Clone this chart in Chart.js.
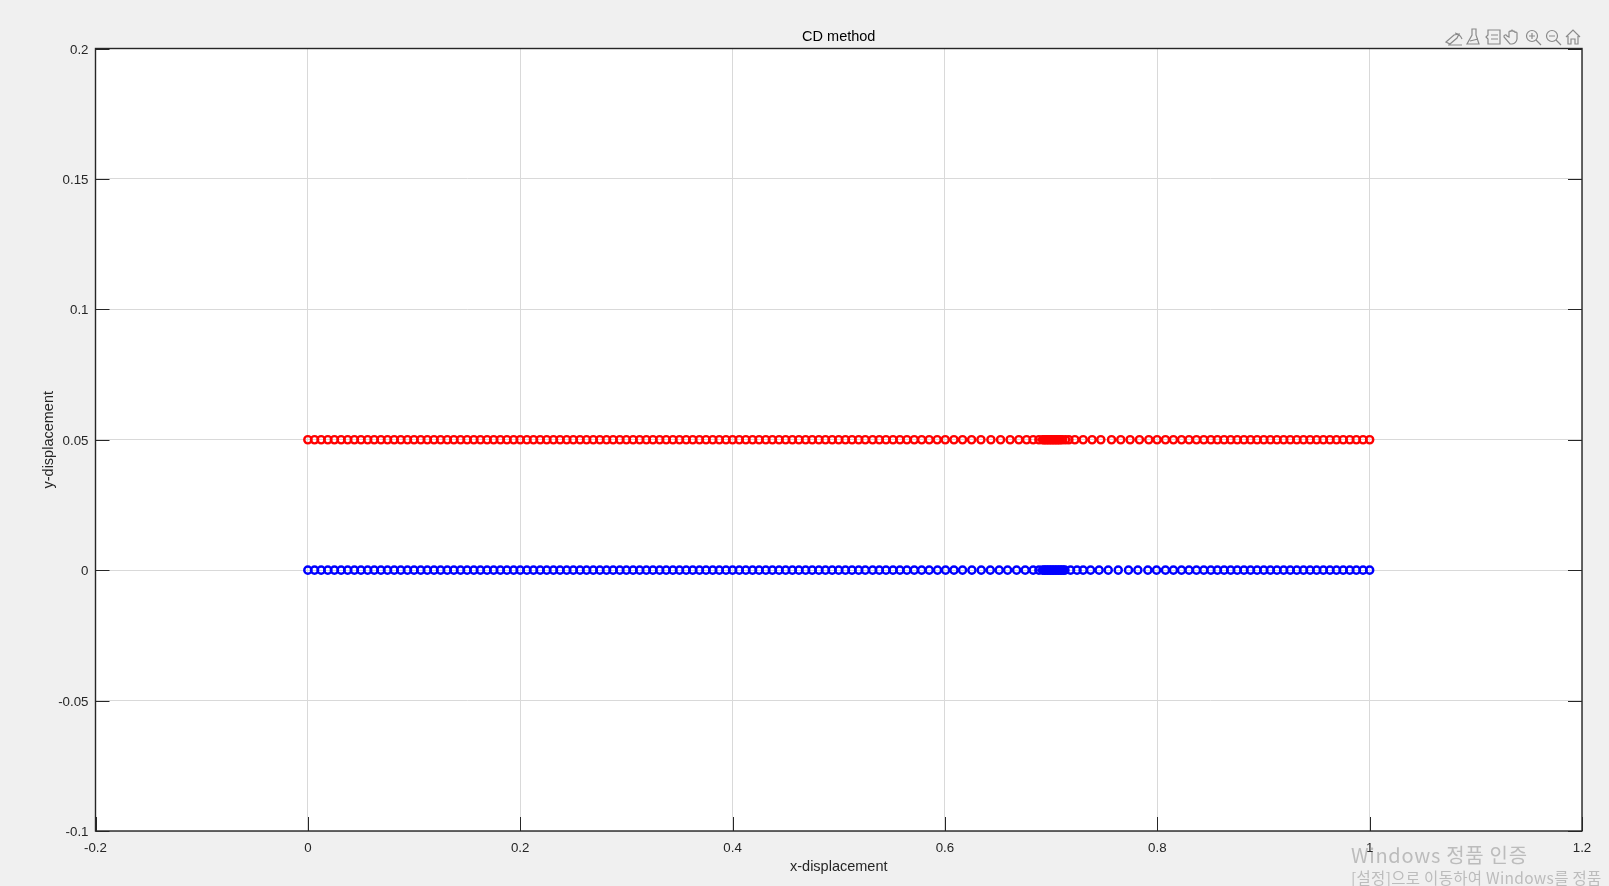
<!DOCTYPE html>
<html>
<head>
<meta charset="utf-8">
<title>CD method</title>
<script src="https://cdn.jsdelivr.net/npm/chart.js@4"></script>
<style>
    html, body { margin: 0; padding: 0; background: #f0f0f0; overflow: hidden; }
    #wrap { position: relative; width: 1609px; height: 886px; overflow: hidden; }
    canvas { display: block; }
    #tools { position: absolute; left: 0; top: 0; }
    .mark { position: absolute; white-space: nowrap; color: #bcbcbc; font-family: "Noto Sans CJK KR", "Noto Sans", sans-serif; }
    #mark1 { left: 1351px; top: 841px; font-size: 20px; letter-spacing: 0.7px; line-height: 28px; }
    #mark2 { left: 1351px; top: 867px; font-size: 15.5px; letter-spacing: 0.3px; line-height: 20px; }
</style>
</head>
<body>
<div id="wrap">
    <canvas id="chart" width="1609" height="886"></canvas>
    <svg id="tools" width="1609" height="60" fill="none" stroke="#8a8a8a" stroke-width="1.2">
        <path d="M1446 42 l8 -7 l5 -1 l-2 4 l-7 6 z M1448 45 h14 M1455 33 q5 1 7 6"/>
        <path d="M1472 29 h4 v6 l3 9 h-12 l5 -9 z M1470 41 l8 -2"/>
        <path d="M1488 30 h12 v14 h-12 v-5 l-2 -2 l2 -2 z M1491 35 h7 M1491 39 h7"/>
        <path d="M1509 37 v-5 a1 1 0 0 1 2 0 v-1 a1 1 0 0 1 2 0 v1 a1 1 0 0 1 2 0 v1 a1 1 0 0 1 2 0 v6 a6 6 0 0 1 -5 5 h-2 l-6 -7 a1 1 0 0 1 3 -1 z"/>
        <circle cx="1532" cy="36" r="5.5"/><path d="M1536 40 l5 5 M1529 36 h6 M1532 33 v6"/>
        <circle cx="1552" cy="36" r="5.5"/><path d="M1556 40 l5 5 M1549 36 h6"/>
        <path d="M1566 37 l7 -7 l7 7 M1568 36 v8 h3 v-5 h4 v5 h3 v-8"/>
    </svg>
    <div class="mark" id="mark1">Windows 정품 인증</div>
    <div class="mark" id="mark2">[설정]으로 이동하여 Windows를 정품</div>
</div>
<script>
// --- Data ---
const leftX = [
    0, 0.0063, 0.0125, 0.0188, 0.025, 0.0313, 0.0375, 0.0438, 0.05, 0.0563, 0.0625, 0.0688, 0.075, 0.0813, 0.0875, 0.0938,
    0.1, 0.1063, 0.1125, 0.1188, 0.125, 0.1313, 0.1375, 0.1438, 0.15, 0.1563, 0.1625, 0.1688, 0.175, 0.1813, 0.1875, 0.1938,
    0.2, 0.2063, 0.2125, 0.2188, 0.225, 0.2313, 0.2375, 0.2438, 0.25, 0.2563, 0.2625, 0.2688, 0.275, 0.2813, 0.2875, 0.2938,
    0.3, 0.3063, 0.3125, 0.3188, 0.325, 0.3313, 0.3375, 0.3438, 0.35, 0.3563, 0.3625, 0.3688, 0.375, 0.3813, 0.3875, 0.3938,
    0.4, 0.4063, 0.4125, 0.4188, 0.425, 0.4313, 0.4375, 0.4438, 0.45, 0.4563, 0.4625, 0.4688, 0.475, 0.4813, 0.4875, 0.4938,
    0.5, 0.5063, 0.5125, 0.5188, 0.525, 0.5319
];
const redMidX = [
    0.5382, 0.5445, 0.5511, 0.5576, 0.5642, 0.5711, 0.5781, 0.5852, 0.5927, 0.6003, 0.6085, 0.6166, 0.6251, 0.6339, 0.6433,
    0.6524, 0.6614, 0.6696, 0.6769, 0.6831, 0.6885, 0.692, 0.6935, 0.695, 0.6965, 0.698, 0.6995, 0.701, 0.7025, 0.704,
    0.7055, 0.707, 0.7085, 0.7105, 0.7135, 0.7167, 0.7224, 0.7302, 0.7386, 0.7468, 0.7569, 0.7656, 0.7744,
    0.7832, 0.792, 0.7998, 0.8077, 0.8152, 0.8228, 0.8299, 0.8369, 0.8438, 0.8504, 0.8566, 0.8629
];
const blueMidX = [
    0.5382, 0.5445, 0.5511, 0.5576, 0.5642, 0.5711, 0.5781, 0.5852, 0.593, 0.6006, 0.6085, 0.6166, 0.6254, 0.6342, 0.6427,
    0.6511, 0.659, 0.6675, 0.6756, 0.6831, 0.6885, 0.692, 0.6935, 0.695, 0.6965, 0.698, 0.6995, 0.701, 0.7025, 0.704,
    0.7055, 0.707, 0.7085, 0.71, 0.7115, 0.713, 0.7183, 0.7244, 0.7302, 0.7372, 0.7452, 0.7538, 0.7632, 0.7729,
    0.7817, 0.7911, 0.7993, 0.8077, 0.8152, 0.8228, 0.8299, 0.8369, 0.8438, 0.8504, 0.8566, 0.8629
];
const rightX = [
    0.8691, 0.8753, 0.8816, 0.8878, 0.894, 0.9003, 0.9065, 0.9127, 0.919, 0.9252, 0.9314, 0.9377, 0.9439, 0.9501, 0.9564,
    0.9626, 0.9688, 0.9751, 0.9813, 0.9875, 0.9938, 1
];
const redY = 0.05;
const blueY = 0;
const xTicks = [-0.2, 0, 0.2, 0.4, 0.6, 0.8, 1, 1.2];
const yTicks = [-0.1, -0.05, 0, 0.05, 0.1, 0.15, 0.2];
const xTickLabels = ['-0.2', '0', '0.2', '0.4', '0.6', '0.8', '1', '1.2'];
const yTickLabels = ['-0.1', '-0.05', '0', '0.05', '0.1', '0.15', '0.2'];

// --- Helpers ---
const FONT = '"Liberation Sans", Arial, sans-serif';
const INK = '#262626';

const toPoints = (xs, y) => xs.map(x => ({ x, y }));

// white plot area, then black box and inward ticks like the MATLAB axes
const axesBox = {
    id: 'axesBox',
    beforeDraw(chart) {
        const { ctx, chartArea: a } = chart;
        ctx.save();
        ctx.fillStyle = '#ffffff';
        ctx.fillRect(a.left, a.top, a.width, a.height);
        ctx.restore();
    },
    afterDatasetsDraw(chart) {
        const { ctx, chartArea: a, scales } = chart;
        const len = 14;
        ctx.save();
        ctx.strokeStyle = INK;
        ctx.lineWidth = 1;
        ctx.beginPath();
        xTicks.forEach(v => {
            const px = Math.round(scales.x.getPixelForValue(v)) + 0.5;
            ctx.moveTo(px, a.bottom); ctx.lineTo(px, a.bottom - len);
        });
        yTicks.forEach(v => {
            const py = Math.round(scales.y.getPixelForValue(v)) + 0.5;
            ctx.moveTo(a.left, py); ctx.lineTo(a.left + len, py);
            ctx.moveTo(a.right, py); ctx.lineTo(a.right - len, py);
        });
        ctx.stroke();
        ctx.lineWidth = 1.4;
        ctx.strokeRect(a.left, a.top, a.width, a.height);
        ctx.restore();
    }
};

function makeSeries(label, xs, y, color) {
    return {
        label,
        data: toPoints(xs, y),
        showLine: false,
        pointStyle: 'circle',
        pointRadius: 3.6,
        pointBorderWidth: 2.4,
        pointBorderColor: color,
        pointBackgroundColor: 'rgba(0,0,0,0)',
        clip: false
    };
}

// --- Chart ---
new Chart(document.getElementById('chart').getContext('2d'), {
    type: 'scatter',
    data: {
        datasets: [
            makeSeries('upper', [...leftX, ...redMidX, ...rightX], redY, '#ff0000'),
            makeSeries('lower', [...leftX, ...blueMidX, ...rightX], blueY, '#0000ff')
        ]
    },
    options: {
        responsive: false,
        devicePixelRatio: 1,
        animation: false,
        layout: { padding: { left: 0, right: 27, top: 0, bottom: 0 } },
        plugins: {
            legend: { display: false },
            tooltip: { enabled: false },
            title: {
                display: true,
                text: 'CD method',
                fullSize: false,
                color: '#000000',
                font: { family: FONT, size: 14.5, weight: 'normal' },
                padding: { top: 28.2, bottom: 2.9 }
            }
        },
        scales: {
            x: {
                type: 'linear',
                min: -0.2,
                max: 1.2,
                afterBuildTicks: s => { s.ticks = xTicks.map(value => ({ value })); },
                afterFit: s => { s.height = 55; },
                grid: { color: '#d9d9d9', lineWidth: 1, drawTicks: false },
                border: { display: false },
                ticks: {
                    autoSkip: false,
                    maxRotation: 0,
                    padding: 9,
                    color: INK,
                    font: { family: FONT, size: 13.3 },
                    callback: (v, i) => xTickLabels[i]
                },
                title: {
                    display: true,
                    text: 'x-displacement',
                    color: INK,
                    font: { family: FONT, size: 14.5 },
                    padding: { top: 0, bottom: 10 }
                }
            },
            y: {
                type: 'linear',
                min: -0.1,
                max: 0.2,
                afterBuildTicks: s => { s.ticks = yTicks.map(value => ({ value })); },
                afterFit: s => { s.width = 95.5; },
                grid: { color: '#d9d9d9', lineWidth: 1, drawTicks: false },
                border: { display: false },
                ticks: {
                    autoSkip: false,
                    padding: 7,
                    labelOffset: 1.5,
                    color: INK,
                    font: { family: FONT, size: 13.3 },
                    callback: (v, i) => yTickLabels[i]
                },
                title: {
                    display: true,
                    text: 'y-displacement',
                    color: INK,
                    font: { family: FONT, size: 14.5 },
                    padding: { top: 40, bottom: 0 }
                }
            }
        }
    },
    plugins: [axesBox]
});
</script>
</body>
</html>
